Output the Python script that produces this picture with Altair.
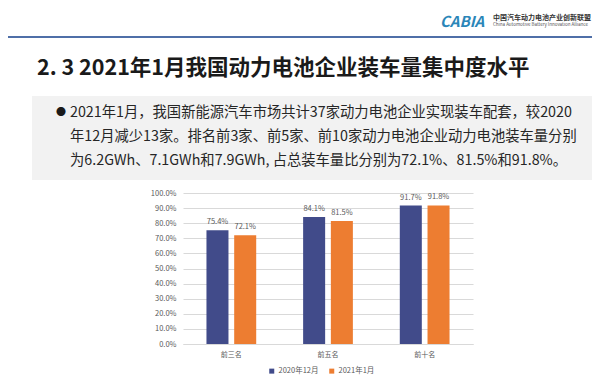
import altair as alt
import pandas as pd

# ---- data ----
categories = ["前三名", "前五名", "前十名"]
series = ["2020年12月", "2021年1月"]
dec2020 = [75.4, 84.1, 91.7]
jan2021 = [72.1, 81.5, 91.8]
y_ticks = [0, 10, 20, 30, 40, 50, 60, 70, 80, 90, 100]
colors = ["#414b8a", "#ed7d31"]

title_text = "2. 3 2021年1月我国动力电池企业装车量集中度水平"
para_lines = [
    "2021年1月，我国新能源汽车市场共计37家动力电池企业实现装车配套，较2020",
    "年12月减少13家。排名前3家、前5家、前10家动力电池企业动力电池装车量分别",
    "为6.2GWh、7.1GWh和7.9GWh, 占总装车量比分别为72.1%、81.5%和91.8%。",
]
logo_word = "CABIA"
logo_cn = "中国汽车动力电池产业创新联盟"
logo_en = "China Automotive Battery Innovation Alliance"

FONT = "Noto Sans CJK SC"

rows = []
for i, c in enumerate(categories):
    rows.append({"category": c, "series": series[0], "value": dec2020[i]})
    rows.append({"category": c, "series": series[1], "value": jan2021[i]})
df = pd.DataFrame(rows)
df["label"] = df["value"].map(lambda v: f"{v:.1f}%")

one = alt.Data(values=[{"k": 1}])


def txt(text, x, y, size, color="#262626", weight="normal", align="left", style="normal", font=FONT):
    return alt.Chart(one).mark_text(
        text=text, align=align, baseline="middle", fontSize=size, color=color,
        fontWeight=weight, font=font, fontStyle=style
    ).encode(x=alt.value(x), y=alt.value(y))


# ---- slide decorations ----
box = alt.Chart(one).mark_rect(color="#f2f2f2").encode(
    x=alt.value(-151), x2=alt.value(414), y=alt.value(-97), y2=alt.value(-13)
)
hline = alt.Chart(one).mark_rule(color="#4f6fa8", strokeWidth=2).encode(
    x=alt.value(-178), x2=alt.value(415), y=alt.value(-156)
)
title = txt(title_text, -146, -124, 21.5, color="#1a1a1a", weight="bold")
bullet = txt("●", -127, -80, 10, color="#1a1a1a")
para = [txt(line, -113, y, 14.3, color="#262626")
        for line, y in zip(para_lines, [-80, -56, -32])]
logo1 = txt(logo_word, 257, -171, 15, color="#2b86b8", weight="bold", style="italic")
logo2 = txt(logo_cn, 310, -175, 7, color="#333333", weight="bold")
logo3 = txt(logo_en, 310, -168, 4.5, color="#555555")

# ---- bar chart ----
y_enc = alt.Y("value:Q", scale=alt.Scale(domain=[0, 100]),
              axis=alt.Axis(title=None, values=y_ticks, tickCount=11,
                            labelExpr="format(datum.value, '.1f') + '%'",
                            labelOverlap=False, domain=False, ticks=False, gridColor="#d9d9d9",
                            labelColor="#595959", labelFontSize=7.5, labelPadding=7, labelFont=FONT))

base = alt.Chart(df).encode(
    x=alt.X("category:N", sort=categories,
            scale=alt.Scale(paddingInner=0.42, paddingOuter=0.21),
            axis=alt.Axis(title=None, labelAngle=0, ticks=False, domainColor="#d9d9d9",
                          labelColor="#595959", labelFontSize=7, labelPadding=6, labelFont=FONT)),
    xOffset=alt.XOffset("series:N", sort=series,
                        scale=alt.Scale(paddingInner=0.206, paddingOuter=0.114)),
    y=y_enc,
)

bars = base.mark_bar().encode(
    color=alt.Color("series:N", sort=series, scale=alt.Scale(domain=series, range=colors),
                    legend=alt.Legend(orient="none", legendX=85, legendY=174, direction="horizontal",
                                      title=None, symbolType="square", symbolSize=25,
                                      labelFontSize=7.5, labelColor="#595959", labelFont=FONT,
                                      columnPadding=9, labelOffset=3)),
)

labels = base.mark_text(baseline="bottom", dy=-4, fontSize=7.5, color="#595959", font=FONT).encode(
    text="label:N"
)

chart = alt.layer(
    box, hline, title, bullet, *para, logo1, logo2, logo3, bars, labels
).properties(
    width=290, height=151,
    padding={"left": 175, "top": 185, "right": 119, "bottom": 33},
    autosize=alt.AutoSizeParams(type="none"),
    background="white",
).configure_view(stroke=None)

chart.save("out.html", embed_options={"renderer": "svg", "actions": False})
